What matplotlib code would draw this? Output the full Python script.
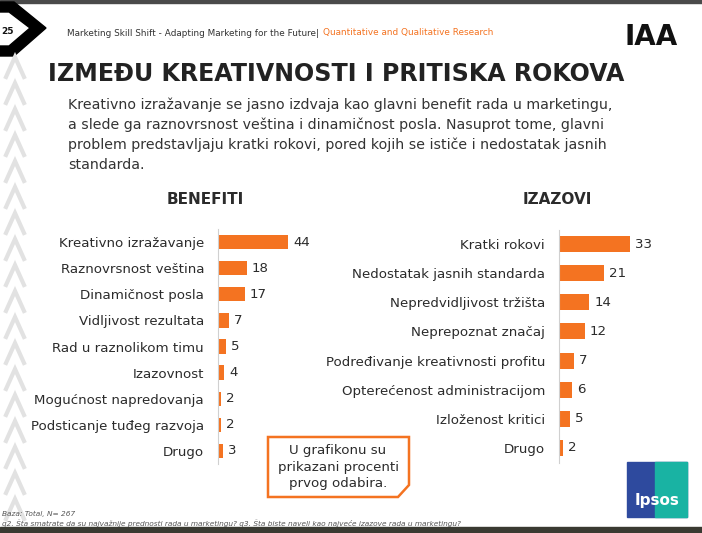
import matplotlib
matplotlib.use("Agg")
import matplotlib.pyplot as plt
from matplotlib.patches import Polygon, Rectangle

# ---- data ----
benefit_labels = ["Kreativno izražavanje", "Raznovrsnost veština", "Dinamičnost posla",
                  "Vidljivost rezultata", "Rad u raznolikom timu", "Izazovnost",
                  "Mogućnost napredovanja", "Podsticanje tuđeg razvoja", "Drugo"]
benefit_values = [44, 18, 17, 7, 5, 4, 2, 2, 3]

challenge_labels = ["Kratki rokovi", "Nedostatak jasnih standarda", "Nepredvidljivost tržišta",
                    "Neprepoznat značaj", "Podređivanje kreativnosti profitu",
                    "Opterećenost administracijom", "Izloženost kritici", "Drugo"]
challenge_values = [33, 21, 14, 12, 7, 6, 5, 2]

ORANGE = "#F47321"
DARK = "#2b2b2b"
W, H = 702, 533

fig = plt.figure(figsize=(W / 100, H / 100), dpi=100)
fig.patch.set_facecolor("white")


def fx(x):
    return x / W


def fy(y):
    return 1 - y / H


def axes_px(left, top, width, height):
    return fig.add_axes([fx(left), fy(top + height), width / W, height / H])


# ---- bar charts ----
def bar_panel(ax, labels, values, px_per_unit, width_px):
    n = len(labels)
    ypos = list(range(n))
    ax.barh(ypos, values, height=0.55, color=ORANGE, zorder=2)
    ax.set_ylim(n - 0.5, -0.5)
    ax.set_xlim(0, width_px / px_per_unit)
    ax.set_yticks(ypos)
    ax.set_yticklabels(labels, fontsize=9.6, color=DARK)
    ax.tick_params(axis="y", length=0, pad=10)
    ax.set_xticks([])
    for s in ["top", "right", "bottom"]:
        ax.spines[s].set_visible(False)
    ax.spines["left"].set_color("#d0d0d0")
    ax.spines["left"].set_linewidth(0.8)
    ax.patch.set_alpha(0)
    for y, v in zip(ypos, values):
        ax.text(v + 5 / px_per_unit, y, str(v), va="center", ha="left",
                fontsize=9.6, color=DARK)


axL = axes_px(218, 229, 110, 235)
bar_panel(axL, benefit_labels, benefit_values, 70 / 44, 110)

axR = axes_px(559, 229.5, 110, 233)
bar_panel(axR, challenge_labels, challenge_values, 71 / 33, 110)

# ---- headers ----
fig.text(fx(205), fy(200), "BENEFITI", ha="center", va="center", fontsize=11,
         fontweight="bold", color=DARK)
fig.text(fx(557), fy(200), "IZAZOVI", ha="center", va="center", fontsize=11,
         fontweight="bold", color=DARK)

# ---- title and description ----
fig.text(fx(48), fy(74), "IZMEĐU KREATIVNOSTI I PRITISKA ROKOVA", ha="left", va="center",
         fontsize=17.1, fontweight="bold", color="#222222")
desc = ("Kreativno izražavanje se jasno izdvaja kao glavni benefit rada u marketingu,\n"
        "a slede ga raznovrsnost veština i dinamičnost posla. Nasuprot tome, glavni\n"
        "problem predstavljaju kratki rokovi, pored kojih se ističe i nedostatak jasnih\n"
        "standarda.")
fig.text(fx(68), fy(97), desc, ha="left", va="top", fontsize=10.2, color="#333333",
         linespacing=1.52)

# ---- slide header ----
fig.text(fx(67), fy(33), "Marketing Skill Shift - Adapting Marketing for the Future|",
         ha="left", va="center", fontsize=6.4, color="#333333")
fig.text(fx(323), fy(33), "Quantitative and Qualitative Research",
         ha="left", va="center", fontsize=6.4, color=ORANGE)
fig.text(fx(651), fy(37), "IAA", ha="center", va="center", fontsize=20,
         fontweight="bold", color="#111111")

# top-left black chevron with page number
fig.patches.append(Polygon([(fx(0), fy(2)), (fx(14), fy(2)), (fx(46), fy(28)),
                            (fx(14), fy(56)), (fx(0), fy(56)), (fx(0), fy(46)),
                            (fx(9), fy(46)), (fx(30), fy(28)), (fx(9), fy(12)),
                            (fx(0), fy(12))],
                           closed=True, transform=fig.transFigure, color="black", zorder=1))
fig.text(fx(1), fy(31), "25", ha="left", va="center", fontsize=6.5, fontweight="bold",
         color="#111111")

# frame strips
fig.patches.append(Rectangle((0, fy(3)), 1, 3 / H, transform=fig.transFigure,
                             color="#4a4a4a", zorder=0))
fig.patches.append(Rectangle((0, 0), 1, 6 / H, transform=fig.transFigure,
                             color="#3a3a32", zorder=0))

# left decorative chevrons
for i in range(18):
    yc = 65 + i * 26
    if yc > 510:
        break
    fig.lines.append(plt.Line2D([fx(6), fx(15), fx(24)], [fy(yc + 12), fy(yc - 8), fy(yc + 12)],
                                transform=fig.transFigure, color="#e2e2e2", lw=3.0,
                                solid_joinstyle="miter"))

# ---- note box ----
box = Polygon([(fx(268), fy(437)), (fx(409), fy(437)), (fx(409), fy(485)),
               (fx(398), fy(497)), (fx(268), fy(497))], closed=True,
              transform=fig.transFigure, facecolor="white", edgecolor=ORANGE, lw=1.8)
fig.patches.append(box)
fig.text(fx(338), fy(467), "U grafikonu su\nprikazani procenti\nprvog odabira.",
         ha="center", va="center", fontsize=9.6, color=DARK, linespacing=1.35)

# ---- Ipsos logo ----
fig.patches.append(Rectangle((fx(627), fy(517)), 60 / W, 55 / H, transform=fig.transFigure,
                             color="#2e4a9e", zorder=1))
fig.patches.append(Polygon([(fx(655), fy(462)), (fx(687), fy(462)), (fx(687), fy(517)),
                            (fx(655), fy(517))], closed=True, transform=fig.transFigure,
                           color="#19b3a3", zorder=1))
fig.text(fx(657), fy(500), "Ipsos", ha="center", va="center", fontsize=11,
         fontweight="bold", color="white", zorder=3)

# ---- footnotes ----
fig.text(fx(2), fy(514), "Baza: Total, N= 267", ha="left", va="center", fontsize=5.3,
         style="italic", color="#555555")
fig.text(fx(2), fy(523),
         "q2. Šta smatrate da su najvažnije prednosti rada u marketingu? q3. Šta biste naveli kao najveće izazove rada u marketingu?",
         ha="left", va="center", fontsize=5.3, style="italic", color="#555555")

fig.savefig("out.png", dpi=100)
